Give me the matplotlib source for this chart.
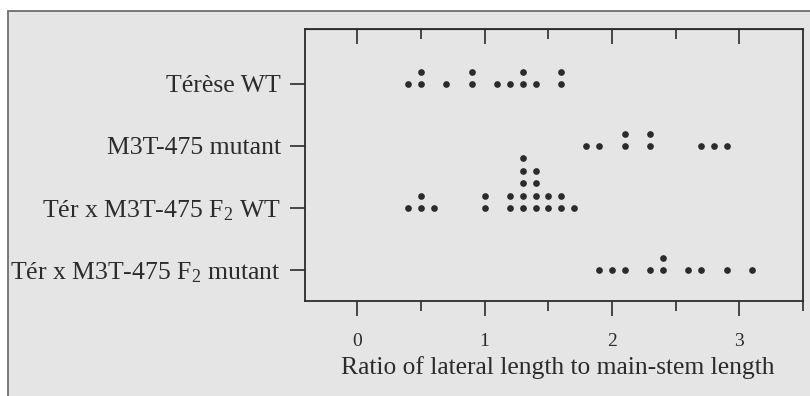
import matplotlib
matplotlib.use("Agg")
import matplotlib.pyplot as plt
from matplotlib.patches import Rectangle
import numpy as np

plt.rcParams['font.family'] = 'Liberation Serif'
plt.rcParams['mathtext.fontset'] = 'custom'
plt.rcParams['mathtext.rm'] = 'Liberation Serif'
plt.rcParams['mathtext.it'] = 'Liberation Serif:italic'

# Data : ratio values per line (0.1 resolution dot plot)
categories = ["Térèse WT", "M3T-475 mutant", "Tér x M3T-475 F$_2$ WT", "Tér x M3T-475 F$_2$ mutant"]
terese_wt = [0.4, 0.5, 0.5, 0.7, 0.9, 0.9, 1.1, 1.2, 1.3, 1.3, 1.4, 1.6, 1.6]
m3t_mutant = [1.8, 1.9, 2.1, 2.1, 2.3, 2.3, 2.7, 2.8, 2.9]
f2_wt = [0.4, 0.5, 0.5, 0.6, 1.0, 1.0, 1.2, 1.2, 1.3, 1.3, 1.3, 1.3, 1.3,
         1.4, 1.4, 1.4, 1.4, 1.5, 1.5, 1.6, 1.6, 1.7]
f2_mutant = [1.9, 2.0, 2.1, 2.3, 2.4, 2.4, 2.6, 2.7, 2.9, 3.1]
x_ticks = [0, 1, 2, 3]

series = [terese_wt, m3t_mutant, f2_wt, f2_mutant]

bg = '#e5e5e5'
ink = '#2b2b2b'

fig = plt.figure(figsize=(8.1, 3.96), dpi=100)
fig.patch.set_facecolor('white')
# scanned page frame
fig.patches.append(Rectangle((8 / 810, -0.05), 1.1, (396 - 11) / 396 + 0.05,
                             transform=fig.transFigure, facecolor=bg,
                             edgecolor='#6e6e6e', linewidth=1.3, zorder=-10))

ax = fig.add_axes([305 / 810, 1 - 301 / 396, (803 - 305) / 810, (301 - 29) / 396])
ax.set_facecolor(bg)

step = 0.2
for i, vals in enumerate(series):
    seen = {}
    xs, ys = [], []
    for v in vals:
        k = seen.get(v, 0)
        seen[v] = k + 1
        xs.append(v)
        ys.append(i - step * k)
    ax.plot(xs, ys, ls='', marker='o', ms=3.8, color=ink, mec=ink, clip_on=False)

ax.set_xlim(-0.41, 3.5)
ax.set_ylim(3.5, -0.887)

ax.set_xticks(x_ticks)
ax.set_xticks([0.5, 1.5, 2.5, 3.5], minor=True)
ax.set_xticklabels([str(t) for t in x_ticks], fontsize=14, color=ink)
ax.tick_params(axis='x', which='major', direction='out', length=11, width=1.2,
               color=ink, pad=12)
ax.tick_params(axis='x', which='minor', direction='out', length=7, width=1.2, color=ink)

ax.set_yticks(range(len(categories)))
ax.set_yticklabels(categories, fontsize=18.5, color=ink)
ax.tick_params(axis='y', which='major', direction='out', length=10.5, width=1.2,
               color=ink, pad=7)
ax.tick_params(axis='y', which='minor', left=False)

# top axis ticks pointing inward
top = ax.secondary_xaxis('top')
top.set_xticks(x_ticks)
top.set_xticks([0.5, 1.5, 2.5], minor=True)
top.tick_params(axis='x', which='major', direction='in', length=11, width=1.2,
                color=ink, labeltop=False)
top.tick_params(axis='x', which='minor', direction='in', length=7, width=1.2, color=ink)
top.spines['top'].set_color(ink)

for s in ax.spines.values():
    s.set_color(ink)
    s.set_linewidth(1.3)

ax.set_xlabel("Ratio of lateral length to main-stem length", fontsize=18.4, color=ink)
ax.xaxis.label.set_va('center')
ax.xaxis.set_label_coords(0.508, -0.246)

fig.savefig("out.png", dpi=100, facecolor=fig.get_facecolor())
